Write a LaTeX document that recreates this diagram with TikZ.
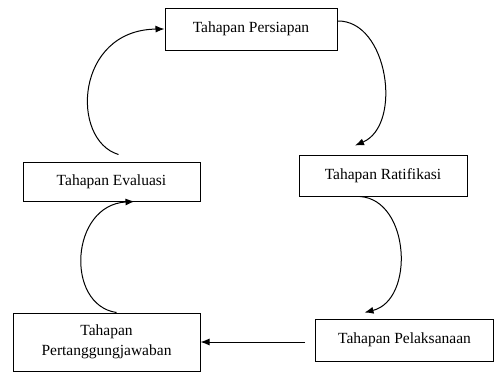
\documentclass[tikz,border=0pt]{standalone}
\usepackage{fontspec}
\setmainfont{Liberation Serif}
\usetikzlibrary{arrows.meta,calc}
\tikzset{
  tahap/box/.style={
    draw=black,
    line width=1pt,
    fill=white,
    align=center,
    text=black,
    inner sep=2pt,
    font=\fontsize{15.5}{20}\selectfont
  },
  tahap/arrow/.style={-{Latex[length=9pt,width=7pt]}, line width=1pt, draw=black}
}
\begin{document}
\begin{tikzpicture}[x=1pt,y=-1pt]
  \useasboundingbox (0,0) rectangle (495,372);
  \node[tahap/box,minimum width=172pt,minimum height=42pt] (persiapan) at (251,29) {Tahapan Persiapan};
  \node[tahap/box,minimum width=168pt,minimum height=41pt] (ratifikasi) at (383,175.5) {Tahapan Ratifikasi};
  \node[tahap/box,minimum width=177pt,minimum height=39pt] (evaluasi) at (111.5,181.5) {Tahapan Evaluasi};
  \node[tahap/box,minimum width=187pt,minimum height=58pt] (tanggung) at (106.5,342) {Tahapan\\Pertanggungjawaban};
  \node[tahap/box,minimum width=178pt,minimum height=42pt] (laksana) at (404.5,340) {Tahapan Pelaksanaan};
  % lingkaran tahapan
  \draw[tahap/arrow] ($(persiapan.east)+(0,-8)$) .. controls (388,20) and (403,125) .. ($(ratifikasi.north)+(-28,-9)$);
  \draw[tahap/arrow] ($(ratifikasi.south)+(-23,0)$) .. controls (410,200) and (415,300) .. ($(laksana.north)+(-40,-6)$);
  \draw[tahap/arrow] ($(laksana.west)+(-10,2)$) -- (tanggung.east);
  \draw[tahap/arrow] ($(tanggung.north)+(10,0)$) .. controls (65,305) and (70,205) .. ($(evaluasi.south)+(23,0)$);
  \draw[tahap/arrow] ($(evaluasi.north)+(7,-7)$) .. controls (70,140) and (75,30) .. (persiapan.west);
\end{tikzpicture}
\end{document}
